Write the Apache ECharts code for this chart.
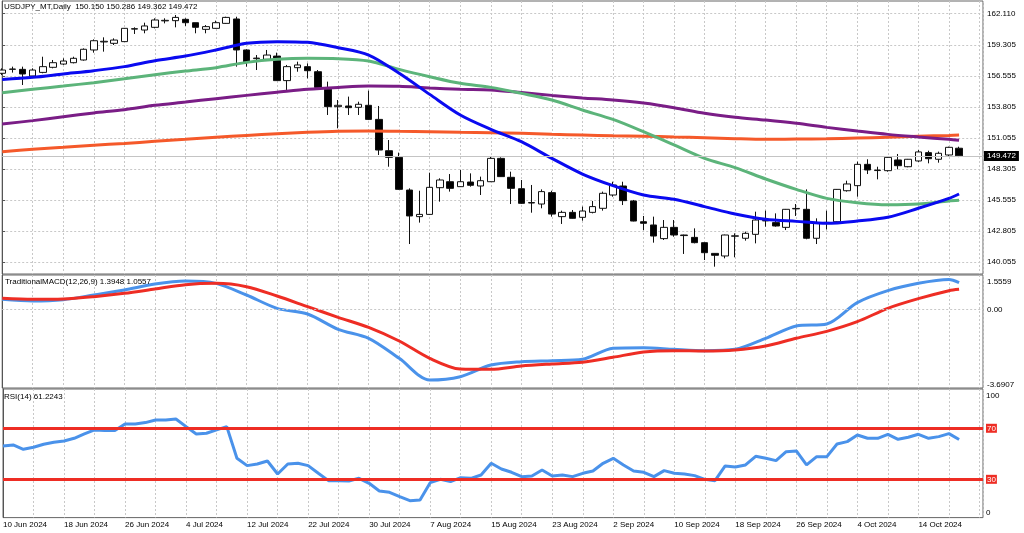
<!DOCTYPE html>
<html><head><meta charset="utf-8">
<script src="https://cdn.jsdelivr.net/npm/echarts@6/dist/echarts.min.js"></script>
<style>html,body{margin:0;padding:0;background:#fff}#c{width:1024px;height:533px}</style>
</head><body><div id="c"></div>
<script>
const dates = ["10 Jun 2024","11 Jun 2024","12 Jun 2024","13 Jun 2024","14 Jun 2024","17 Jun 2024","18 Jun 2024","19 Jun 2024","20 Jun 2024","21 Jun 2024","24 Jun 2024","25 Jun 2024","26 Jun 2024","27 Jun 2024","28 Jun 2024",
"1 Jul 2024","2 Jul 2024","3 Jul 2024","4 Jul 2024","5 Jul 2024","8 Jul 2024","9 Jul 2024","10 Jul 2024","11 Jul 2024","12 Jul 2024","15 Jul 2024","16 Jul 2024","17 Jul 2024","18 Jul 2024","19 Jul 2024","22 Jul 2024","23 Jul 2024","24 Jul 2024","25 Jul 2024","26 Jul 2024","29 Jul 2024","30 Jul 2024","31 Jul 2024",
"1 Aug 2024","2 Aug 2024","5 Aug 2024","6 Aug 2024","7 Aug 2024","8 Aug 2024","9 Aug 2024","12 Aug 2024","13 Aug 2024","14 Aug 2024","15 Aug 2024","16 Aug 2024","19 Aug 2024","20 Aug 2024","21 Aug 2024","22 Aug 2024","23 Aug 2024","26 Aug 2024","27 Aug 2024","28 Aug 2024","29 Aug 2024","30 Aug 2024",
"2 Sep 2024","3 Sep 2024","4 Sep 2024","5 Sep 2024","6 Sep 2024","9 Sep 2024","10 Sep 2024","11 Sep 2024","12 Sep 2024","13 Sep 2024","16 Sep 2024","17 Sep 2024","18 Sep 2024","19 Sep 2024","20 Sep 2024","23 Sep 2024","24 Sep 2024","25 Sep 2024","26 Sep 2024","27 Sep 2024","30 Sep 2024",
"1 Oct 2024","2 Oct 2024","3 Oct 2024","4 Oct 2024","7 Oct 2024","8 Oct 2024","9 Oct 2024","10 Oct 2024","11 Oct 2024","14 Oct 2024","15 Oct 2024","16 Oct 2024","17 Oct 2024","18 Oct 2024"];

const open = [156.80,157.15,157.15,156.56,156.88,157.33,157.62,157.74,157.98,158.87,
159.58,159.46,159.61,160.72,160.64,160.88,161.45,161.47,161.59,161.29,
160.70,160.79,161.23,161.62,158.87,158.10,158.04,158.33,156.15,157.30,
157.39,156.94,155.38,153.84,153.90,153.78,153.96,152.71,149.93,149.34,
146.44,144.08,144.28,146.65,147.18,146.74,147.15,146.80,147.18,149.25,
147.57,146.56,145.29,145.20,146.21,144.08,144.46,144.02,144.46,144.82,
146.00,146.80,145.47,143.63,143.34,142.13,143.13,142.40,142.24,141.77,
140.82,140.59,142.34,142.16,142.51,143.70,143.55,143.13,144.77,144.73,
142.16,143.52,143.63,146.38,146.83,148.72,148.17,148.16,149.11,148.51,
149.02,149.76,149.17,149.55,150.150];
const high = [157.24,157.39,157.39,157.24,158.27,157.98,158.13,158.27,159.01,159.81,
159.99,159.90,160.82,160.88,161.29,161.68,161.68,161.97,161.68,161.29,
161.08,161.47,161.82,161.82,158.93,158.42,158.87,158.63,157.54,157.83,
157.68,157.09,156.06,154.43,154.73,154.28,155.26,153.90,150.88,149.76,
146.59,146.38,147.98,147.48,147.86,148.22,147.92,147.63,149.40,149.34,
148.07,147.33,146.89,146.50,146.38,144.61,144.67,144.97,145.47,146.30,
147.18,147.18,145.56,144.14,144.08,143.78,143.78,142.48,143.04,141.80,
140.85,142.48,142.60,142.75,144.52,144.61,144.37,144.76,145.20,146.50,
143.93,144.61,146.53,147.27,148.96,149.17,148.51,149.40,149.64,149.20,
149.99,149.93,149.85,150.29,150.286];
const low = [156.65,156.86,155.76,156.50,156.80,157.24,157.54,157.68,157.92,158.63,
158.72,159.31,159.58,160.29,160.35,160.79,161.23,160.88,161.00,160.35,
160.35,160.76,161.20,157.39,157.39,157.09,157.98,156.12,155.32,156.94,
156.35,155.50,153.10,151.92,153.10,153.10,152.65,149.55,148.51,146.45,
141.65,143.55,144.25,145.41,146.30,146.72,146.74,146.00,147.15,147.60,
145.20,145.20,144.43,144.82,144.08,143.43,143.90,143.72,144.37,144.61,
145.85,145.11,143.66,142.89,141.77,142.01,142.30,140.77,141.71,140.23,
139.64,140.38,140.47,141.95,141.71,143.19,143.19,142.89,144.14,142.07,
141.65,142.95,143.60,146.30,145.85,147.86,147.39,148.07,148.28,148.46,
148.93,148.81,148.87,149.46,149.362];
const close = [157.09,157.18,156.74,157.09,157.39,157.74,157.89,158.13,158.93,159.69,
159.64,159.75,160.79,160.76,161.00,161.53,161.50,161.76,161.29,160.88,
160.94,161.29,161.76,158.87,157.83,158.15,158.42,156.15,157.39,157.54,
157.03,155.55,153.84,153.96,153.75,154.05,152.71,149.99,149.34,146.50,
144.14,144.28,146.68,147.33,146.59,147.18,146.86,147.27,149.25,147.63,
146.59,145.26,145.33,146.30,144.31,144.46,143.93,144.58,144.97,146.15,
146.89,145.50,143.69,143.49,142.36,143.13,142.45,142.45,141.77,140.88,
140.65,142.45,142.38,142.60,143.78,143.74,143.25,144.73,144.81,142.16,
143.55,143.57,146.50,146.98,148.72,148.22,148.21,149.34,148.60,149.17,
149.82,149.22,149.70,150.23,149.472];

// sampled bar positions for the smooth indicator lines
const sampleIdx = [0,3,6,9,12,15,18,21,24,27,30,33,36,39,42,45,48,51,54,57,60,63,66,69,72,75,78,81,84,87,90,93,94];
const maBlue   = [156.26,156.44,156.74,157.03,157.39,157.92,158.33,158.87,159.46,159.61,159.55,159.07,158.42,156.80,154.93,153.10,151.83,150.73,149.25,147.86,146.83,146.00,145.62,144.97,144.31,143.84,143.66,143.49,143.69,144.02,144.82,145.70,146.09];
const maGreen  = [155.08,155.38,155.67,155.97,156.32,156.68,157.00,157.30,157.77,158.04,158.13,158.10,157.89,157.15,156.50,155.91,155.55,155.02,154.43,153.54,152.71,151.62,150.44,149.25,148.43,147.42,146.50,145.70,145.32,145.14,145.20,145.47,145.53];
const maPurple = [152.30,152.60,152.95,153.28,153.57,153.96,154.25,154.55,154.84,155.11,155.38,155.55,155.67,155.64,155.49,155.38,155.32,155.09,154.84,154.61,154.43,154.16,153.75,153.25,152.90,152.65,152.36,152.00,151.68,151.38,151.15,150.94,150.85];
const maOrange = [149.84,150.05,150.23,150.41,150.58,150.76,150.94,151.12,151.29,151.44,151.56,151.65,151.68,151.65,151.62,151.56,151.53,151.47,151.38,151.32,151.26,151.21,151.15,151.09,151.00,150.94,150.97,150.99,151.06,151.12,151.21,151.29,151.32];
const macdLine   = [0.534,0.448,0.517,0.758,1.016,1.326,1.481,1.361,0.758,0.069,-0.224,-1.016,-1.481,-2.515,-3.635,-3.463,-2.860,-2.687,-2.636,-2.567,-1.998,-1.964,-2.050,-2.119,-2.050,-1.481,-0.844,-0.741,0.362,0.982,1.361,1.5559,1.3948];
const signalLine = [0.586,0.534,0.551,0.672,0.844,1.068,1.292,1.361,1.189,0.706,0.155,-0.396,-0.913,-1.619,-2.515,-3.066,-3.084,-2.911,-2.808,-2.722,-2.463,-2.188,-2.119,-2.136,-2.084,-1.878,-1.481,-1.120,-0.620,0.069,0.568,0.982,1.0557];
const rsi = [56.15,56.93,53.53,55.10,57.45,59.02,60.07,62.16,65.56,68.69,
68.17,68.17,73.40,73.40,74.44,76.54,76.54,77.32,71.31,65.56,
66.08,68.69,71.31,46.47,40.72,42.03,44.38,34.19,42.03,42.55,
40.72,34.71,28.96,28.96,28.70,30.79,26.87,20.86,19.81,16.42,
13.28,13.80,27.39,30.00,28.18,31.31,30.79,33.40,42.55,38.11,
35.50,32.10,32.62,37.33,32.62,33.40,32.10,34.71,36.54,42.55,
46.47,41.25,36.54,35.50,32.10,36.80,34.71,34.19,32.88,30.00,
28.96,40.46,39.68,41.25,48.04,46.47,44.64,51.70,52.22,41.25,
47.78,47.78,57.71,59.54,64.77,62.16,62.16,65.29,61.37,62.94,
65.29,62.16,63.47,65.82,61.2243];

const priceTicks = [140.055,142.805,145.555,148.305,151.055,153.805,156.555,159.305,162.110];
const macdTicks = [1.5559,0,-3.6907];
const rsiTicks = [0,30,70,100];
const rsiLevels = [70,30];

const FONT = '"Liberation Sans", Arial, sans-serif';
const GRIDC = '#c8c8c8';
const DOT = {color: GRIDC, type: [2,2], width: 1};
const last = dates.length - 1;

const candles = dates.map((d,i)=>[i, open[i], close[i], low[i], high[i]]);
const pairs = arr => sampleIdx.map((x,k)=>[x, arr[k]]);
const rsiData = rsi.map((v,i)=>[i, v]);

const xCommon = (gi, labels) => ({
  type: 'value', gridIndex: gi, min: 0, max: 96.35, interval: 3,
  axisLine: {show: false}, axisTick: {show: false},
  splitLine: {show: true, lineStyle: DOT},
  axisLabel: labels ? {
    show: true, fontSize: 8, color: '#000', align: 'left', margin: 3, fontFamily: FONT,
    showMinLabel: true, showMaxLabel: false,
    formatter: v => (Number.isInteger(v) && v % 6 === 0 && v <= last) ? dates[v] : ''
  } : {show: false}
});

const gridStyle = {show: true, borderColor: '#666', borderWidth: 1, left: 2.2, right: 41};

const chart = echarts.init(document.getElementById('c'), null, {renderer: 'canvas'});
chart.setOption({
  animation: false,
  backgroundColor: '#fff',
  textStyle: {fontFamily: FONT},
  title: [
    {text: `USDJPY_MT,Daily  ${open[last].toFixed(3)} ${high[last].toFixed(3)} ${low[last].toFixed(3)} ${close[last].toFixed(3)}`,
     left: 4, top: 3, padding: 0, textStyle: {fontSize: 8, fontWeight: 'normal', color: '#000', fontFamily: FONT}},
    {text: `TraditionalMACD(12,26,9) ${macdLine[macdLine.length-1].toFixed(4)} ${signalLine[signalLine.length-1].toFixed(4)}`,
     left: 5, top: 278, padding: 0, textStyle: {fontSize: 8, fontWeight: 'normal', color: '#000', fontFamily: FONT}},
    {text: `RSI(14) ${rsi[last].toFixed(4)}`,
     left: 4, top: 393, padding: 0, textStyle: {fontSize: 8, fontWeight: 'normal', color: '#000', fontFamily: FONT}}
  ],
  grid: [
    Object.assign({top: 1, height: 273}, gridStyle),
    Object.assign({top: 275, height: 113}, gridStyle),
    Object.assign({top: 389, height: 128.6}, gridStyle)
  ],
  xAxis: [xCommon(0, false), xCommon(1, false), xCommon(2, true)],
  yAxis: [
    {type: 'value', gridIndex: 0, position: 'right', min: 138.99, max: 163.215, scale: true,
     axisLine: {show: true, lineStyle: {color: '#555'}},
     axisTick: {show: true, length: 3, lineStyle: {color: '#555'}, customValues: priceTicks},
     splitLine: {show: true, lineStyle: DOT},
     axisLabel: {customValues: priceTicks, fontSize: 8, color: '#000', margin: 4, fontFamily: FONT, formatter: v => v.toFixed(3)}},
    {type: 'value', gridIndex: 1, position: 'right', min: -4.048, max: 1.792,
     axisLine: {show: true, lineStyle: {color: '#555'}},
     axisTick: {show: false, customValues: macdTicks},
     splitLine: {show: false},
     axisLabel: {customValues: macdTicks, fontSize: 8, color: '#000', margin: 4, fontFamily: FONT,
       formatter: v => v === 0 ? '0.00' : (v > 0 ? `{t|${v.toFixed(4)}}` : `{b|${v.toFixed(4)}}`),
       rich: {t: {fontSize: 8, padding: [5,0,0,0]}, b: {fontSize: 8, padding: [8,0,0,0]}}}},
    {type: 'value', gridIndex: 2, position: 'right', min: 0, max: 100.78,
     axisLine: {show: true, lineStyle: {color: '#555'}},
     axisTick: {show: false, customValues: rsiTicks},
     splitLine: {show: false},
     axisLabel: {customValues: rsiTicks, fontSize: 8, color: '#000', margin: 3, fontFamily: FONT,
       formatter: v => rsiLevels.includes(v) ? `{lv|${v}}` : (v === 100 ? `{t|100}` : `{b|0}`),
       rich: {lv: {fontSize: 8, color: '#fff', backgroundColor: '#ee2d24', padding: [1,1,0,1], lineHeight: 8},
              t: {fontSize: 8, padding: [11,0,0,0]}, b: {fontSize: 8, padding: [0,0,10,0]}}}}
  ],
  series: [
    {type: 'candlestick', name: 'USDJPY', xAxisIndex: 0, yAxisIndex: 0, data: candles,
     encode: {x: 0, y: [1,2,3,4]}, barWidth: 7, silent: true,
     itemStyle: {color: '#fff', color0: '#000', borderColor: '#111', borderColor0: '#111', borderWidth: 1},
     markLine: {silent: true, symbol: ['none','none'], animation: false,
       lineStyle: {color: '#c4c4c4', type: 'solid', width: 1},
       label: {show: true, position: 'end', distance: 1, formatter: close[last].toFixed(3),
               backgroundColor: '#000', color: '#fff', fontSize: 8, padding: [1,3,1,3], fontFamily: FONT},
       data: [{yAxis: close[last]}]}},
    {type: 'line', name: 'MA orange', xAxisIndex: 0, yAxisIndex: 0, data: pairs(maOrange), showSymbol: false, smooth: 0.3, silent: true,
     lineStyle: {color: '#f5592a', width: 3}},
    {type: 'line', name: 'MA purple', xAxisIndex: 0, yAxisIndex: 0, data: pairs(maPurple), showSymbol: false, smooth: 0.3, silent: true,
     lineStyle: {color: '#7a1d86', width: 3}},
    {type: 'line', name: 'MA green', xAxisIndex: 0, yAxisIndex: 0, data: pairs(maGreen), showSymbol: false, smooth: 0.3, silent: true,
     lineStyle: {color: '#5cb47a', width: 3}},
    {type: 'line', name: 'MA blue', xAxisIndex: 0, yAxisIndex: 0, data: pairs(maBlue), showSymbol: false, smooth: 0.3, silent: true,
     lineStyle: {color: '#0a0af0', width: 3}},
    {type: 'line', name: 'MACD', xAxisIndex: 1, yAxisIndex: 1, data: pairs(macdLine), showSymbol: false, smooth: 0.3, silent: true,
     lineStyle: {color: '#4a92ea', width: 3},
     markLine: {silent: true, symbol: ['none','none'], animation: false, label: {show: false},
       lineStyle: {color: GRIDC, type: [2,2], width: 1}, data: [{yAxis: 0}]}},
    {type: 'line', name: 'Signal', xAxisIndex: 1, yAxisIndex: 1, data: pairs(signalLine), showSymbol: false, smooth: 0.3, silent: true,
     lineStyle: {color: '#ee2d24', width: 3}},
    {type: 'line', name: 'RSI', xAxisIndex: 2, yAxisIndex: 2, data: rsiData, showSymbol: false, silent: true,
     lineStyle: {color: '#4a92ea', width: 3},
     markLine: {silent: true, symbol: ['none','none'], animation: false, label: {show: false},
       lineStyle: {color: '#ee2d24', type: 'solid', width: 3}, data: rsiLevels.map(v => ({yAxis: v}))}}
  ]
});
</script>
</body></html>
